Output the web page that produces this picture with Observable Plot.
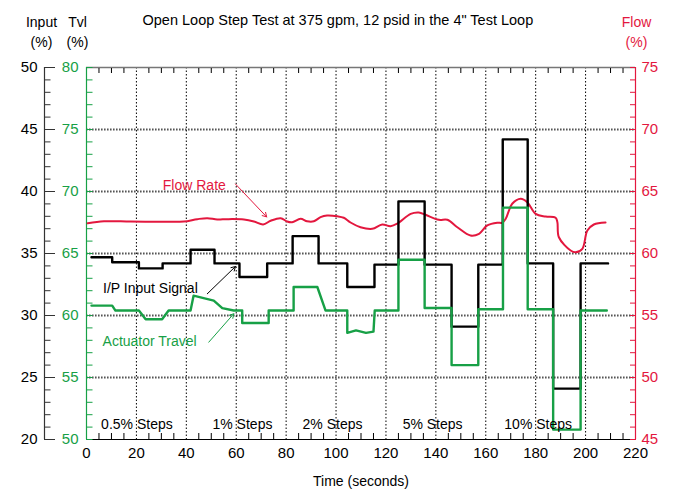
<!DOCTYPE html>
<html>
<head>
<meta charset="utf-8">
<script src="https://cdn.jsdelivr.net/npm/d3@7"></script>
<script src="https://cdn.jsdelivr.net/npm/@observablehq/plot@0.6"></script>
<style>
  html, body { margin: 0; padding: 0; background: #fff; }
  #chart { width: 676px; height: 489px; }
</style>
</head>
<body>
<div id="chart"></div>
<script>
// ---------- data ----------
// I/P input signal (%), left black axis 20–50, step changes
const inputTimes  = [2, 10.3, 21, 30.5, 41.7, 51.3, 61.3, 72.4, 82.6, 93, 104.5, 115.4, 125, 135.5, 146.3, 157, 166.8, 176.8, 187, 198, 209];
const inputValues = [34.7, 34.3, 33.8, 34.2, 35.3, 34.2, 33.1, 34.2, 36.4, 34.2, 32.3, 34.1, 39.2, 34.1, 29.1, 34.1, 44.2, 34.2, 24.1, 34.2, 34.2];

// Actuator travel (%), green axis 50–80
const travelTimes  = [2, 10.3, 11.6, 21, 23.7, 30.3, 32.9, 41.7, 42.9, 51, 54.4, 59, 62.4, 62.4, 73, 73, 83, 83, 92.5, 95.8, 104.5, 104.5, 108, 112, 115, 115.5, 125, 125, 135.5, 135.5, 146.3, 146.3, 157, 157, 166.9, 166.9, 176.8, 176.8, 187, 187, 198, 198, 208.5];
const travelValues = [60.8, 60.8, 60.4, 60.4, 59.7, 59.7, 60.4, 60.4, 61.6, 61.2, 60.6, 60.4, 60.4, 59.4, 59.4, 60.4, 60.4, 62.3, 62.3, 60.4, 60.4, 58.6, 58.8, 58.6, 58.7, 60.4, 60.4, 64.5, 64.5, 60.6, 60.6, 56.0, 56.0, 60.5, 60.5, 68.7, 68.7, 60.5, 60.5, 50.8, 50.8, 60.4, 60.4];

// Flow rate (%), red axis 45–75
const flowTimes  = [0.5, 7, 17.6, 31, 39, 44.4, 48.4, 52.4, 56.4, 63.1, 67.1, 70.8, 73.8, 77.8, 80.4, 82.4, 85.8, 88.4, 91.1, 93.8, 96.4, 100.5, 103.1, 105.8, 109.8, 114.5, 118.5, 121.8, 124.5, 129.9, 133.2, 135.9, 141.2, 144.6, 148.6, 153.9, 157.3, 160.6, 164.6, 166.6, 168.0, 170.6, 174.0, 176.6, 180.0, 184.0, 188.0, 188.7, 189.3, 194.0, 196.0, 198.7, 200.7, 203.3, 208.0];
const flowValues = [62.44, 62.6, 62.58, 62.56, 62.58, 62.77, 62.85, 62.74, 62.77, 62.74, 62.58, 62.34, 62.64, 62.85, 62.58, 62.52, 62.8, 62.6, 62.6, 62.93, 63.06, 63.0, 62.88, 62.5, 62.12, 61.99, 62.34, 62.2, 62.4, 63.2, 63.31, 63.12, 62.72, 62.72, 62.12, 61.45, 61.59, 62.26, 62.48, 62.48, 62.8, 64.01, 64.41, 64.14, 63.2, 62.98, 62.88, 62.52, 61.31, 60.24, 60.1, 60.38, 61.85, 62.34, 62.5];

// step-size group labels (centre time)
const stepLabels = ["0.5% Steps", "1% Steps", "2% Steps", "5% Steps", "10% Steps"];
const stepCenters = [20.2, 62.5, 98.6, 138.7, 181];

// axis tick values
const inputTicks = [20, 25, 30, 35, 40, 45, 50];
const travelTicks = [50, 55, 60, 65, 70, 75, 80];
const flowTicks = [45, 50, 55, 60, 65, 70, 75];
const timeTicks = [0, 20, 40, 60, 80, 100, 120, 140, 160, 180, 200, 220];

const TITLE = "Open Loop Step Test at 375 gpm, 12 psid in the 4\" Test Loop";

// ---------- derived tables ----------
const TRAVEL_OFFSET = 30; // travel axis = input axis + 30
const FLOW_OFFSET = 25;   // flow axis = input axis + 25
const inputData = inputTimes.map((t, i) => ({t, v: inputValues[i]}));
const travelData = travelTimes.map((t, i) => ({t, v: travelValues[i]}));
const flowData = flowTimes.map((t, i) => ({t, v: flowValues[i]}));
const stepData = stepLabels.map((s, i) => ({s, t: stepCenters[i]}));

// annotation placement (data units: seconds, input-axis %)
const annotations = [
  {text: "Flow Rate", color: "#e3173e", tx: 43.2, ty: 40.48, x1: 59.7, y1: 40.6, x2: 72.2, y2: 37.95},
  {text: "I/P Input Signal", color: "#000", tx: 25.6, ty: 32.15, x1: 48.4, y1: 31.75, x2: 59.7, y2: 33.95},
  {text: "Actuator Travel", color: "#17a046", tx: 25.3, ty: 27.93, x1: 49.0, y1: 27.85, x2: 59.0, y2: 30.14}
];

const GREEN = "#17a046";
const RED = "#e3173e";
const FONT = "'Liberation Sans', Arial, Helvetica, sans-serif";
const minorY = d3.range(20, 51, 1);
const minorX = d3.range(5, 220, 5).filter(d => d % 20 !== 0);

const chart = Plot.plot({
  width: 676,
  height: 489,
  marginTop: 67,
  marginBottom: 50,
  marginLeft: 86,
  marginRight: 41,
  style: {fontFamily: FONT, fontSize: "15px", background: "#fff", color: "#000", overflow: "visible"},
  x: {domain: [0, 220], axis: null, label: null},
  y: {domain: [20, 50], axis: null, label: null},
  marks: [
    // grid
    Plot.gridY({ticks: [25, 30, 35, 40, 45], stroke: "#555", strokeOpacity: 1, strokeWidth: 1.8, strokeDasharray: "1.6,1.4"}),
    Plot.gridX({ticks: d3.range(20, 201, 20), stroke: "#000", strokeOpacity: 1, strokeWidth: 1, strokeDasharray: "1.5,2"}),
    // frame lines
    Plot.ruleY([50], {stroke: "#777", strokeWidth: 1.5}),
    Plot.ruleY([20], {stroke: "#000", strokeWidth: 1.2}),
    Plot.ruleX([0], {y1: 20, y2: 50, stroke: GREEN, strokeWidth: 1.2}),
    Plot.ruleX([220], {y1: 20, y2: 50, stroke: RED, strokeWidth: 1.2}),
    Plot.ruleX([0], {y1: 20, y2: 50, dx: -42, stroke: "#333", strokeWidth: 1.2}),
    // x ticks (inward) and labels
    Plot.axisX({anchor: "top", ticks: minorX, tickSize: -5, tickFormat: () => "", label: null, stroke: "#000"}),
    Plot.axisX({anchor: "bottom", ticks: minorX, tickSize: -6, tickFormat: () => "", label: null, stroke: "#000"}),
    Plot.axisX({anchor: "bottom", ticks: timeTicks, tickSize: 0, tickPadding: 8, tickFormat: d => d, label: null, fontSize: 15}),
    // black input axis
    Plot.axisY({anchor: "left", ticks: minorY, tickSize: -6.5, dx: -42, tickFormat: () => "", label: null, stroke: "#333"}),
    Plot.axisY({anchor: "left", ticks: inputTicks, tickSize: -11, dx: -42, tickFormat: () => "", label: null, stroke: "#333"}),
    Plot.axisY({anchor: "left", ticks: inputTicks, tickSize: 0, tickPadding: 7, dx: -42, tickFormat: d => d, label: null, fontSize: 15}),
    // green travel axis
    Plot.axisY({anchor: "left", ticks: minorY, tickSize: -6.5, tickFormat: () => "", label: null, stroke: GREEN}),
    Plot.axisY({anchor: "left", ticks: inputTicks, tickSize: 0, tickPadding: 8, tickFormat: d => d + TRAVEL_OFFSET, label: null, fill: GREEN, fontSize: 15}),
    // red flow axis
    Plot.axisY({anchor: "right", ticks: minorY, tickSize: -6, tickFormat: () => "", label: null, stroke: RED}),
    Plot.axisY({anchor: "right", ticks: inputTicks, tickSize: 0, tickPadding: 6, tickFormat: d => d + FLOW_OFFSET, label: null, fill: RED, fontSize: 15}),
    // data
    Plot.line(flowData, {x: "t", y: d => d.v - FLOW_OFFSET, stroke: RED, strokeWidth: 2, curve: "catmull-rom"}),
    Plot.line(inputData, {x: "t", y: "v", stroke: "#000", strokeWidth: 2.4, curve: "step-after"}),
    Plot.line(travelData, {x: "t", y: d => d.v - TRAVEL_OFFSET, stroke: GREEN, strokeWidth: 2.4, curve: "linear"}),
    // step labels
    Plot.text(stepData, {x: "t", y: 21.2, text: "s", fontSize: 14, fill: "#000"}),
    // annotations
    Plot.text(annotations, {x: "tx", y: "ty", text: "text", fill: "color", fontSize: 14}),
    Plot.arrow(annotations, {x1: "x1", y1: "y1", x2: "x2", y2: "y2", stroke: "color", strokeWidth: 1, headLength: 7}),
    // header texts
    Plot.text([TITLE], {text: d => d, frameAnchor: "top-left", textAnchor: "start", lineAnchor: "middle", dx: 56, dy: -47, fontSize: 14.5}),
    Plot.text(["Input\n(%)"], {text: d => d, frameAnchor: "top-left", textAnchor: "middle", lineAnchor: "middle", dx: -45, dy: -37, lineHeight: 1.4, fontSize: 14}),
    Plot.text(["Tvl\n(%)"], {text: d => d, frameAnchor: "top-left", textAnchor: "middle", lineAnchor: "middle", dx: -9, dy: -37, lineHeight: 1.4, fontSize: 14}),
    Plot.text(["Flow\n(%)"], {text: d => d, frameAnchor: "top-right", textAnchor: "middle", lineAnchor: "middle", dx: 1, dy: -37, lineHeight: 1.4, fontSize: 14, fill: RED}),
    Plot.text(["Time (seconds)"], {text: d => d, frameAnchor: "bottom", lineAnchor: "middle", dy: 42, fontSize: 14})
  ]
});
document.getElementById("chart").appendChild(chart);
</script>
</body>
</html>
